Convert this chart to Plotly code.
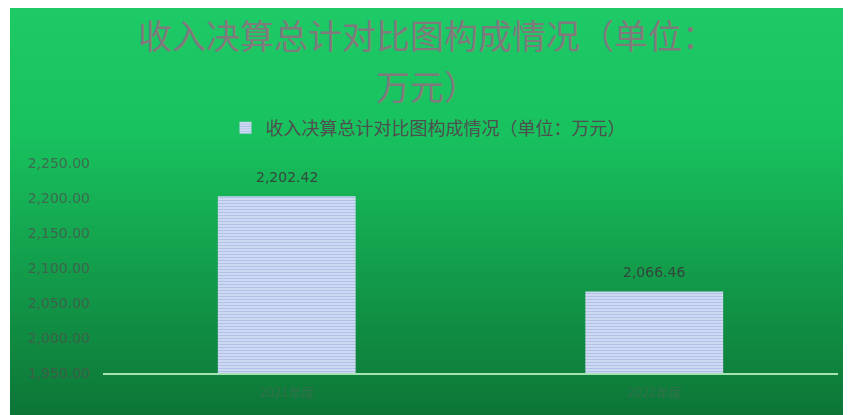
import plotly.graph_objects as go

categories = ["2021年度", "2022年度"]
values = [2202.42, 2066.46]
series_name = "收入决算总计对比图构成情况（单位：万元）"
title_lines = ["收入决算总计对比图构成情况（单位：", "万元）"]
tick_vals = [1950, 2000, 2050, 2100, 2150, 2200, 2250]
tick_text = ["1,950.00", "2,000.00", "2,050.00", "2,100.00", "2,150.00", "2,200.00", "2,250.00"]

# figure pixel geometry (page adds an 8px body margin)
W, H = 851, 415
L, R, T, B = 95, 21, 155, 50
pw, ph = W - L - R, H - T - B


def px_to_paper_x(x):
    return (x - L) / pw


def px_to_paper_y(y):
    return (H - B - y) / ph


fig = go.Figure()
fig.add_trace(go.Bar(
    x=categories, y=values, name=series_name,
    marker=dict(color="#d6e0f4", line=dict(width=0),
                pattern=dict(shape="-", fgcolor="#8199d5", bgcolor="#e0e8f8", size=3, solidity=0.6)),
))

annotations = []
for c, v in zip(categories, values):
    annotations.append(dict(x=c, y=v, xref="x", yref="y", text=f"{v:,.2f}", showarrow=False,
                            yanchor="bottom", yshift=9,
                            font=dict(family="DejaVu Sans", size=14, color="rgba(55,60,58,0.9)")))
title_y = [26, 77]
for txt, yy in zip(title_lines, title_y):
    annotations.append(dict(x=px_to_paper_x(419), y=px_to_paper_y(yy), xref="paper", yref="paper",
                            text=txt, showarrow=False, xanchor="center", yanchor="middle",
                            font=dict(family="Noto Sans CJK SC", size=34, color="#807a7d")))

# vertical green gradient background (each band runs to the bottom to avoid seams)
stops = [(0.0, (30, 202, 102)), (0.3, (24, 194, 94)), (1.0, (13, 116, 54))]


def col(t):
    for (t0, c0), (t1, c1) in zip(stops[:-1], stops[1:]):
        if t0 <= t <= t1:
            f = (t - t0) / (t1 - t0)
            return "rgb(%d,%d,%d)" % tuple(round(a + (b - a) * f) for a, b in zip(c0, c1))
    return "rgb(%d,%d,%d)" % stops[-1][1]


shapes = []
y0p, y1p = 0, 415
n = 80
for i in range(n):
    ya = y0p + (y1p - y0p) * i / n
    shapes.append(dict(type="rect", xref="paper", yref="paper",
                       x0=px_to_paper_x(2), x1=px_to_paper_x(W + 10),
                       y0=px_to_paper_y(H + 20), y1=px_to_paper_y(ya),
                       fillcolor=col(i / (n - 1)), line=dict(width=0), layer="below"))

fig.update_layout(
    width=W, height=H,
    margin=dict(l=L, r=R, t=T, b=B),
    paper_bgcolor="white", plot_bgcolor="rgba(0,0,0,0)",
    shapes=shapes,
    annotations=annotations,
    bargap=0.625,
    legend=dict(orientation="h", x=px_to_paper_x(420), xanchor="center", y=px_to_paper_y(120), yanchor="middle",
                bgcolor="rgba(0,0,0,0)", itemwidth=30,
                font=dict(family="Noto Sans CJK SC", size=18, color="#4f4f4f")),
    showlegend=True,
    xaxis=dict(showline=True, linecolor="#a6e3b4", linewidth=2, showgrid=False, ticks="",
               ticklabelstandoff=6,
               tickfont=dict(family="Noto Sans CJK SC", size=13, color="rgba(95,100,96,0.45)")),
    yaxis=dict(range=[1950, 2250], tickvals=tick_vals, ticktext=tick_text, showgrid=False,
               zeroline=False, showline=False, ticks="", ticklabelstandoff=12,
               tickfont=dict(family="DejaVu Sans", size=14, color="rgba(75,82,77,0.75)")),
)

fig.write_html("out.html")
